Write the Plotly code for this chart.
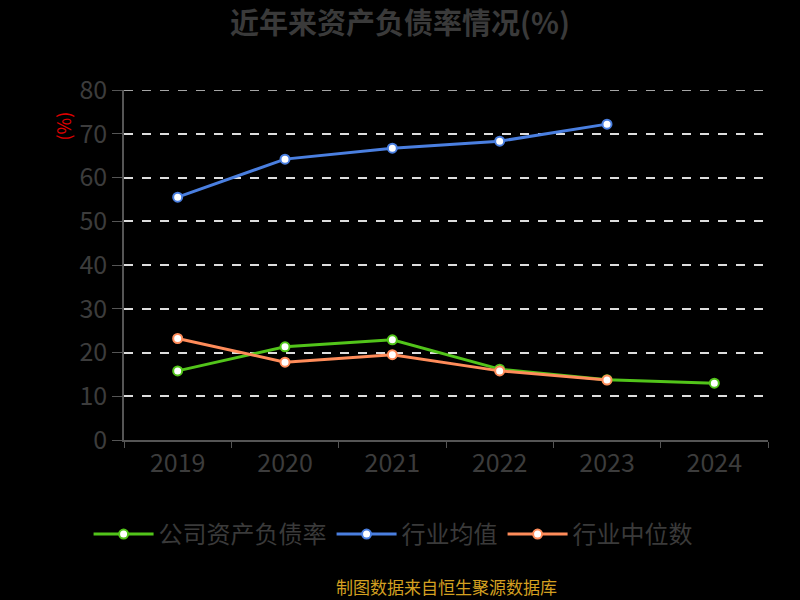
import plotly.graph_objects as go

years = ["2019", "2020", "2021", "2022", "2023", "2024"]
company = [15.8, 21.3, 22.9, 16.2, 13.8, 13.0]
industry_mean = [55.5, 64.2, 66.7, 68.3, 72.2, None]
industry_median = [23.2, 17.8, 19.5, 15.8, 13.7, None]

y_max = 80
font_family = "Noto Sans CJK SC, Noto Sans, sans-serif"

fig = go.Figure()

series = [
    ("公司资产负债率", company, "#52c41a"),
    ("行业均值", industry_mean, "#4a7fe0"),
    ("行业中位数", industry_median, "#ff8c5a"),
]
for name, vals, color in series:
    fig.add_trace(go.Scatter(
        x=years, y=vals, name=name, mode="lines+markers",
        line=dict(color=color, width=3),
        marker=dict(size=9, color="white", line=dict(color=color, width=2)),
    ))

fig.update_layout(
    width=800, height=600,
    paper_bgcolor="black", plot_bgcolor="black",
    margin=dict(l=124, r=32, t=90, b=160),
    font=dict(family=font_family, color="#3c3c3c"),
    title=dict(text="<b>近年来资产负债率情况(%)</b>", x=0.5, xanchor="center",
               y=0.96, yanchor="middle", font=dict(size=29, color="#3a3a3a")),
    showlegend=True,
    legend=dict(orientation="h", x=-0.055, xanchor="left", y=-0.27, yanchor="middle",
                font=dict(size=24, color="#3a3a3a"), itemwidth=60),
    xaxis=dict(
        type="category", range=[-0.5, len(years) - 0.5],
        showgrid=False, showline=True, linecolor="#555555", linewidth=1.5,
        ticks="outside", tickson="boundaries", ticklen=6, tickcolor="#555555",
        tickfont=dict(size=25, color="#3c3c3c"), zeroline=False,
    ),
    yaxis=dict(
        range=[0, y_max], dtick=10, showgrid=True, gridcolor="#dddddd", griddash="dash",
        gridwidth=1.5, showline=True, linecolor="#555555", linewidth=1.5,
        ticks="outside", ticklen=10, tickcolor="#555555",
        tickfont=dict(size=25, color="#3c3c3c"), zeroline=False,
    ),
)

# top gridline (plotly drops the one on the range edge)
fig.add_shape(type="line", xref="paper", yref="y", x0=0, x1=1, y0=y_max, y1=y_max,
              line=dict(color="#dddddd", width=1.5, dash="dash"), layer="below")

fig.add_annotation(text="(%)", textangle=-90, xref="paper", yref="paper",
                   x=-0.094, y=0.897, xanchor="center", yanchor="middle", showarrow=False,
                   font=dict(size=18, color="#e00000"))
fig.add_annotation(text="制图数据来自恒生聚源数据库", xref="paper", yref="paper",
                   x=0.5, y=-0.418, xanchor="center", yanchor="middle", showarrow=False,
                   font=dict(size=17, color="#d4a020"))

fig.write_html("out.html", config={"displayModeBar": False},
               post_script="document.body.style.margin='0';")
